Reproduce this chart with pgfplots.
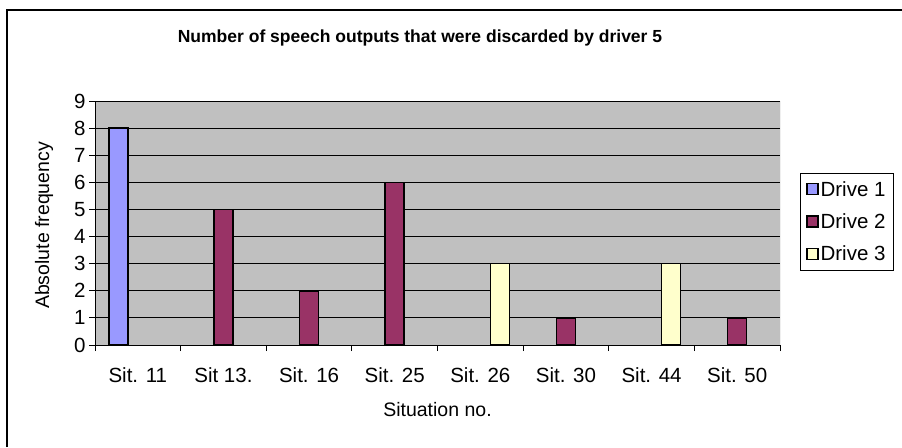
\documentclass[border=0pt]{standalone}
\usepackage{pgfplots}
\pgfplotsset{compat=1.18}
\usepackage{fontspec}
\setmainfont{Liberation Sans}
\definecolor{plotbg}{HTML}{C0C0C0}
\definecolor{dOne}{HTML}{9999FF}
\definecolor{dTwo}{HTML}{993366}
\definecolor{dThree}{HTML}{FFFFCC}
\begin{document}
\begin{tikzpicture}[x=1pt,y=1pt]
\useasboundingbox (0,0) rectangle (902,447);
\draw[line width=1.3pt] (7,0) -- (7,437) -- (902,437);
\begin{axis}[
  at={(95pt,102pt)}, anchor=south west,
  scale only axis, width=685pt, height=244pt,
  xmin=-0.5, xmax=7.5, ymin=0, ymax=9,
  axis x line*=bottom, axis y line*=left,
  axis line style={black, line width=0.9pt},
  axis background/.style={fill=plotbg},
  ytick={0,...,9},
  xtick={-0.5,0.5,...,7.5},
  x tick label as interval,
  xticklabels={Sit. 11, Sit 13., Sit. 16, Sit. 25, Sit. 26, Sit. 30, Sit. 44, Sit. 50},
  tick align=outside,
  major tick length=6pt,
  tick style={black, line width=0.8pt},
  ymajorgrids, grid style={black, line width=0.8pt},
  /pgf/number format/assume math mode=true,
  ticklabel style={font=\fontsize{20.5}{24}\selectfont},
  xticklabel style={yshift=-13pt},
  xlabel={Situation no.},
  xlabel style={font=\fontsize{19.5}{23}\selectfont, at={(axis description cs:0.5,-0.266)}, anchor=center},
  ylabel={Absolute frequency},
  ylabel style={font=\fontsize{19.5}{23}\selectfont, at={(axis description cs:-0.0745,0.49)}, anchor=center},
  legend style={at={(axis description cs:1.0292,0.7049)}, anchor=north west,
    draw=black, line width=0.8pt, fill=white, font=\fontsize{20.5}{24}\selectfont,
    row sep=12pt, inner xsep=6pt, inner ysep=6pt,
    /tikz/every even column/.append style={column sep=2pt}},
  legend cell align=left,
  legend image code/.code={\draw[#1, line width=1.2pt] (0pt,-5pt) rectangle (11pt,6pt);},
]
\addplot[ybar, bar width=19pt, bar shift=-19.5pt, fill=dOne, draw=black, line width=1.6pt]
  coordinates {(0,8)};
\addplot[ybar, bar width=19pt, bar shift=0pt, fill=dTwo, draw=black, line width=1.6pt]
  coordinates {(1,5) (2,2) (3,6) (5,1) (7,1)};
\addplot[ybar, bar width=19pt, bar shift=19.5pt, fill=dThree, draw=black, line width=1.6pt]
  coordinates {(4,3) (6,3)};
\draw[gray, line width=1pt] (rel axis cs:1,0) -- (rel axis cs:1,1);
\legend{Drive 1, Drive 2, Drive 3}
\end{axis}
\node[font=\bfseries\fontsize{17.5}{21}\selectfont] at (420,409) {Number of speech outputs that were discarded by driver 5};
\end{tikzpicture}
\end{document}
